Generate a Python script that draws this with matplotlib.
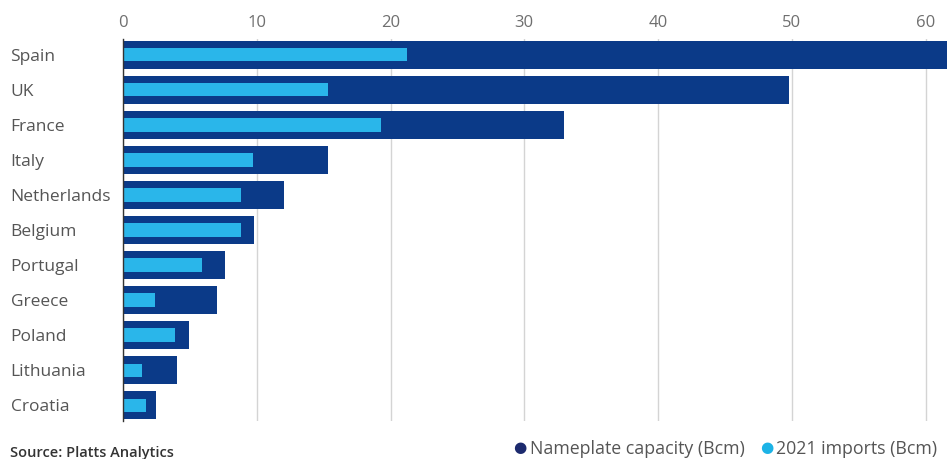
import matplotlib.pyplot as plt
import numpy as np

countries = ["Spain", "UK", "France", "Italy", "Netherlands", "Belgium",
             "Portugal", "Greece", "Poland", "Lithuania", "Croatia"]
capacity = [63.5, 49.8, 33.0, 15.3, 12.0, 9.8, 7.6, 7.0, 4.9, 4.0, 2.5]
imports_2021 = [21.2, 15.3, 19.3, 9.7, 8.8, 8.8, 5.9, 2.4, 3.9, 1.4, 1.7]
ticks = [0, 10, 20, 30, 40, 50, 60]

DARK = "#0b3a88"
LIGHT = "#2ab6ea"
GREY = "#6f6f6f"

plt.rcParams["font.family"] = ["Open Sans", "DejaVu Sans"]

fig = plt.figure(figsize=(9.47, 4.59), dpi=100)
ax = fig.add_axes([123 / 947, 1 - 421 / 459, 1 - 123 / 947, (421 - 39) / 459])

y = np.arange(len(countries))
ax.barh(y, capacity, height=0.8, color=DARK, zorder=2)
ax.barh(y, imports_2021, height=0.38, color=LIGHT, zorder=3)

ax.set_xlim(0, 61.6)
ax.set_ylim(len(countries) - 0.55, -0.45)
ax.set_yticks(y)
ax.set_yticklabels(countries, fontsize=12.5, color="#555555")
ax.set_xticks(ticks)
ax.set_xticklabels([str(t) for t in ticks], fontsize=12, color=GREY)
ax.xaxis.tick_top()
ax.tick_params(axis="both", length=0)
ax.tick_params(axis="y", pad=81)
for lbl in ax.get_yticklabels():
    lbl.set_horizontalalignment("left")
ax.tick_params(axis="x", pad=6)

ax.grid(axis="x", color="#d4d4d4", linewidth=1, zorder=0)
for s in ["top", "right", "bottom"]:
    ax.spines[s].set_visible(False)
ax.spines["left"].set_color("#333333")
ax.spines["left"].set_linewidth(1)
ax.spines["left"].set_zorder(4)

fig.text(10 / 947, 1 - 453 / 459, "Source: Platts Analytics", fontsize=10.5,
         fontweight="semibold", color="#333333", va="center")

fig.text(513 / 947, 1 - 449 / 459, "\u25cf", fontsize=11, color="#1c2a6e", va="center")
fig.text(530 / 947, 1 - 449 / 459, "Nameplate capacity (Bcm)", fontsize=12.8,
         color="#555555", va="center")
fig.text(760 / 947, 1 - 449 / 459, "\u25cf", fontsize=11, color="#1cb3e6", va="center")
fig.text(776 / 947, 1 - 449 / 459, "2021 imports (Bcm)", fontsize=12.8,
         color="#555555", va="center")

fig.savefig("out.png", dpi=100)
